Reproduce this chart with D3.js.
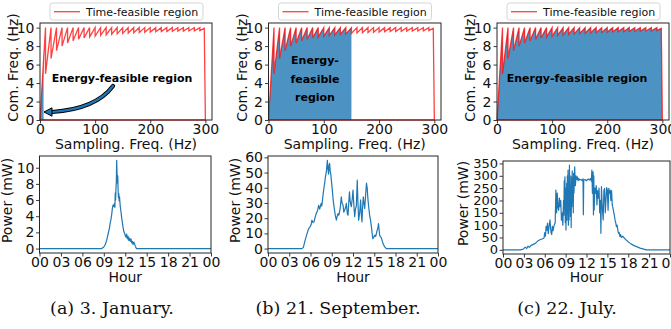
<!DOCTYPE html>
<html><head><meta charset="utf-8">
<script src="https://cdn.jsdelivr.net/npm/d3@7"></script>
<style>body{margin:0;background:#fff}svg{display:block}</style>
</head><body><svg id="c" width="671" height="329"></svg>
<script>
// ---------- data ----------
const sampFreq = [0,10,10,20,20,30,30,40,40,50,50,60,60,70,70,80,80,90,90,100,100,110,110,120,120,130,130,140,140,150,150,160,160,170,170,180,180,190,190,200,200,210,210,220,220,230,230,240,240,250,250,260,260,270,270,280,280,290,290,298,300,0];
const comFreq  = [0,10,5,10,6.67,10,7.5,10,8,10,8.33,10,8.57,10,8.75,10,8.89,10,9,10,9.09,10,9.17,10,9.23,10,9.29,10,9.33,10,9.38,10,9.41,10,9.44,10,9.47,10,9.5,10,9.52,10,9.55,10,9.57,10,9.58,10,9.6,10,9.62,10,9.63,10,9.64,10,9.66,10,9.67,9.93,0,0];
const energyCutoff = [6.5, 150, 300];
const freqTicks = [0,100,200,300];
const comTicks = [0,2,4,6,8,10];
const hourTicks = [0,3,6,9,12,15,18,21,24];
const hourTickLabels = ["00","03","06","09","12","15","18","21","00"];
const captions = ["(a) 3. January.","(b) 21. September.","(c) 22. July."];
const legendLabel = "Time-feasible region";

const hoursA = [0,8.7,9.0,9.2,9.4,9.6,9.8,9.9,10.0,10.1,10.2,10.3,10.4,10.5,10.55,10.6,10.65,10.7,10.75,10.8,10.85,10.9,10.95,11.0,11.05,11.1,11.15,11.2,11.3,11.4,11.5,11.6,11.7,11.8,11.9,12.0,12.1,12.2,12.3,12.4,12.5,12.6,12.7,12.8,12.9,13.0,13.1,13.2,13.3,13.4,13.5,13.6,24];
const powerA = [0,0,0.2,0.5,1.0,1.8,2.6,3.2,3.6,4.2,5.0,5.4,5.2,5.6,5.1,6.9,6.0,7.4,8.2,10.9,9.4,8.1,9.0,7.2,6.3,6.8,5.9,6.4,5.2,4.6,3.8,3.2,2.6,2.1,1.9,1.6,1.4,1.8,1.2,1.5,1.0,1.3,0.9,1.2,0.7,0.9,0.5,0.8,0.6,0.3,0.1,0,0];
const powerTicksA = [0,2,4,6,8,10];

const hoursB = [0,4.8,5.0,5.18,5.4,5.65,5.8,6.0,6.1,6.2,6.35,6.5,6.65,6.8,7.0,7.15,7.3,7.5,7.6,7.76,7.9,8.0,8.1,8.24,8.38,8.47,8.56,8.63,8.7,8.78,8.85,9.04,9.2,9.32,9.5,9.65,9.75,9.88,10.0,10.1,10.2,10.35,10.45,10.6,10.7,10.8,10.95,11.06,11.2,11.3,11.4,11.5,11.6,11.76,11.9,12.0,12.1,12.24,12.35,12.47,12.6,12.7,12.8,12.95,13.08,13.18,13.27,13.35,13.46,13.55,13.65,13.78,13.9,14.0,14.1,14.2,14.35,14.5,14.6,14.7,14.8,14.95,15.06,15.2,15.3,15.4,15.5,15.6,15.76,15.9,16.0,16.24,16.47,16.7,24];
const powerB = [0,0,0.8,4.4,8,12,13.5,14.7,16,18.7,17.2,17.6,20.5,23,25,28.5,26,29.7,28,35,40,43,47,50.5,58,52,49,55,56,51,49.5,40.6,32,27.5,22,18.7,21,23,22,24,27,34,30,28.5,24,25,27,29.7,23,22,30,37.4,31,27.5,33,38.5,30,21,26,28,45,30,18.7,24,32,22,17.6,27,34,30,26.4,35,43,40,33,28,22,18,14.3,10,6.6,7.5,8.8,8,9.9,12,13.2,16.5,8.8,7.7,7,3.3,1.1,0,0];
const powerTicksB = [0,10,20,30,40,50,60];

const hoursC = [0,2.5,2.9,3.2,3.4,3.6,3.8,4.0,4.2,4.5,4.8,5.1,5.4,5.7,5.9,6.0,6.1,6.2,6.3,6.4,6.5,6.6,6.75,6.9,7.0,7.1,7.2,7.35,7.5,7.6,7.7,7.8,7.9,8.0,8.1,8.2,8.3,8.4,8.5,8.6,8.7,8.75,8.8,8.85,8.9,8.95,9.0,9.05,9.1,9.15,9.2,9.25,9.3,9.35,9.4,9.45,9.5,9.55,9.6,9.65,9.7,9.75,9.8,9.85,9.9,9.95,10.0,10.05,10.1,10.15,10.2,10.3,10.4,10.5,10.6,10.7,10.8,10.9,11.0,11.2,11.4,11.5,11.55,11.6,11.8,12.0,12.2,12.4,12.6,12.7,12.77,12.85,12.95,13.0,13.05,13.1,13.2,13.3,13.4,13.5,13.6,13.7,13.8,13.9,14.0,14.07,14.15,14.25,14.4,14.5,14.6,14.7,14.8,14.9,15.0,15.1,15.2,15.3,15.4,15.5,15.6,15.7,15.8,15.9,16.0,16.1,16.2,16.3,16.4,16.5,16.6,16.7,16.8,16.9,17.0,17.2,17.45,17.7,17.93,18.3,18.65,19.0,19.37,19.7,20.1,20.6,24];
const powerC = [0,0,3,11,5,15,10,17,20,24,30,38,42,45,48,70,55,95,80,108,65,90,121,70,62,95,78,100,110,242,150,230,170,160,210,175,200,120,150,100,200,140,280,180,296,110,250,80,200,269,120,300,150,323,100,250,121,343,160,300,135,260,90,296,175,320,200,283,150,310,230,336,260,300,285,296,280,289,283,285,280,288,142,282,285,280,287,283,289,278,323,229,316,142,300,161,250,229,260,182,240,209,250,150,200,67,256,180,121,240,249,150,202,252,242,160,249,230,242,200,240,182,170,155,140,121,110,94,100,80,67,70,54,62,50,55,47,40,34,26,20,15,11,7,4,0,0];
const powerTicksC = [0,50,100,150,200,250,300,350];

// ---------- drawing ----------
const svg = d3.select("#c");
const SANS = '"DejaVu Sans", sans-serif';
const SPINE = "#262626";

const topPanels = [
  {L:40, R:212, T:23, B:120},
  {L:268.5, R:441, T:23, B:120},
  {L:497, R:669, T:23, B:120}
];
const botPanels = [
  {L:39.5, R:211, T:156, B:253, hours:hoursA, power:powerA, ticks:powerTicksA, dom:[-0.55,11.45], fs:14},
  {L:268, R:438, T:156, B:253, hours:hoursB, power:powerB, ticks:powerTicksB, dom:[-2.9,60.9], fs:14},
  {L:503, R:670, T:161, B:254, hours:hoursC, power:powerC, ticks:powerTicksC, dom:[-17,360], fs:13}
];

function styleAxis(g, fs) {
  g.select(".domain").remove();
  g.selectAll(".tick line").attr("stroke", SPINE).attr("stroke-width", 0.9);
  g.selectAll(".tick text").attr("fill", "#111").style("font-family", SANS).style("font-size", (fs || 14) + "px");
}
function frame(p) {
  svg.append("rect").attr("x", p.L).attr("y", p.T).attr("width", p.R - p.L).attr("height", p.B - p.T)
    .attr("fill", "none").attr("stroke", SPINE).attr("stroke-width", 1);
}

const sawPts = sampFreq.map((s, i) => [s, comFreq[i]]);

topPanels.forEach((p, k) => {
  const x = d3.scaleLinear().domain([0, 312]).range([p.L, p.R]);
  const y = d3.scaleLinear().domain([0, 10.5]).range([p.B, p.T]);
  const cid = "clipE" + k;
  svg.append("clipPath").attr("id", cid).append("rect")
    .attr("x", x(0)).attr("y", p.T).attr("width", x(energyCutoff[k]) - x(0)).attr("height", p.B - p.T);
  const sawFill = sawPts.slice(0, sawPts.length - 1);
  svg.append("path").datum(sawFill)
    .attr("d", d3.area().x(d => x(d[0])).y0(y(0)).y1(d => y(d[1])))
    .attr("fill", "#1f77b4").attr("fill-opacity", 0.8).attr("clip-path", `url(#${cid})`);
  svg.append("path").datum(sawPts)
    .attr("d", d3.line().x(d => x(d[0])).y(d => y(d[1])))
    .attr("fill", "none").attr("stroke", "#ff0000").attr("stroke-opacity", 0.75).attr("stroke-width", 1.3);
  frame(p);
  svg.append("g").attr("transform", `translate(0,${p.B})`)
    .call(d3.axisBottom(x).tickValues(freqTicks).tickSize(3.5).tickPadding(1).tickFormat(d3.format("d"))).call(styleAxis);
  svg.append("g").attr("transform", `translate(${p.L},0)`)
    .call(d3.axisLeft(y).tickValues(comTicks).tickSize(3.5).tickPadding(2).tickFormat(d3.format("d"))).call(styleAxis);
  // labels
  svg.append("text").attr("x", (p.L + p.R) / 2).attr("y", 149).attr("text-anchor", "middle")
    .style("font-family", SANS).style("font-size", "14px").attr("fill", "#111").text("Sampling. Freq. (Hz)");
  svg.append("text").attr("transform", `translate(${p.L - 22},${(p.T + p.B) / 2 - 4}) rotate(-90)`)
    .attr("text-anchor", "middle").style("font-family", SANS).style("font-size", "14px").attr("fill", "#111")
    .text("Com. Freq. (Hz)");
  // legend
  const lg = svg.append("g").attr("transform", `translate(${p.L + 10},3)`);
  lg.append("rect").attr("width", 153).attr("height", 17).attr("rx", 2.5)
    .attr("fill", "#fff").attr("fill-opacity", 0.85).attr("stroke", "#d0d0d0").attr("stroke-width", 0.9);
  lg.append("line").attr("x1", 4).attr("x2", 30).attr("y1", 8.7).attr("y2", 8.7)
    .attr("stroke", "#ff0000").attr("stroke-opacity", 0.75).attr("stroke-width", 1.3);
  lg.append("text").attr("x", 36).attr("y", 12.8).style("font-family", SANS).style("font-size", "11px")
    .attr("fill", "#111").text(legendLabel);
});

// annotations
const boldStyle = t => t.style("font-family", SANS).style("font-size", "11px").style("font-weight", "bold").attr("fill", "#000").attr("text-anchor", "middle");
svg.append("text").attr("x", 122).attr("y", 82).call(boldStyle).text("Energy-feasible region");
[["Energy-", 64], ["feasible", 83], ["region", 101]].forEach(([t, yy]) =>
  svg.append("text").attr("x", 315).attr("y", yy).call(boldStyle).text(t));
svg.append("text").attr("x", 577).attr("y", 82).call(boldStyle).text("Energy-feasible region");
// curved arrow (panel a)
const arrowPath = "M113,86 Q96,109 52,112";
svg.append("path").attr("d", arrowPath).attr("fill", "none").attr("stroke", "#000").attr("stroke-width", 4.2).attr("stroke-linecap", "round");
svg.append("path").attr("d", arrowPath).attr("fill", "none").attr("stroke", "#1f77b4").attr("stroke-width", 2.2).attr("stroke-linecap", "round");
svg.append("path").attr("d", "M44,112 L52,107.8 L52,116.2 Z").attr("fill", "#1f77b4").attr("stroke", "#000").attr("stroke-width", 1);

// bottom panels
botPanels.forEach((p, k) => {
  const x = d3.scaleLinear().domain([0, 24]).range([p.L, p.R]);
  const y = d3.scaleLinear().domain(p.dom).range([p.B, p.T]);
  svg.append("path").datum(p.hours.map((h, i) => [h, p.power[i]]))
    .attr("d", d3.line().x(d => x(d[0])).y(d => y(d[1])))
    .attr("fill", "none").attr("stroke", "#1f77b4").attr("stroke-width", 1.2).attr("stroke-linejoin", "round");
  frame(p);
  svg.append("g").attr("transform", `translate(0,${p.B})`)
    .call(d3.axisBottom(x).tickValues(hourTicks).tickSize(3.5).tickPadding(1).tickFormat((d, i) => hourTickLabels[i])).call(styleAxis);
  svg.append("g").attr("transform", `translate(${p.L},0)`)
    .call(d3.axisLeft(y).tickValues(p.ticks).tickSize(3.5).tickPadding(1.5).tickFormat(d3.format("d"))).call(g => styleAxis(g, p.fs));
  svg.append("text").attr("x", (p.L + p.R) / 2).attr("y", 282).attr("text-anchor", "middle")
    .style("font-family", SANS).style("font-size", "14px").attr("fill", "#111").text("Hour");
  const yl = k === 2 ? p.L - 35 : p.L - 28;
  svg.append("text").attr("transform", `translate(${yl},${(p.T + p.B) / 2 - 4}) rotate(-90)`)
    .attr("text-anchor", "middle").style("font-family", SANS).style("font-size", "14px").attr("fill", "#111")
    .text("Power (mW)");
});

// captions
const capX = [112, 338, 567];
captions.forEach((c, i) => svg.append("text").attr("x", capX[i]).attr("y", 314).attr("text-anchor", "middle")
  .style("font-family", '"DejaVu Serif", serif').style("font-size", "17.5px").attr("fill", "#111").text(c));
</script></body></html>
